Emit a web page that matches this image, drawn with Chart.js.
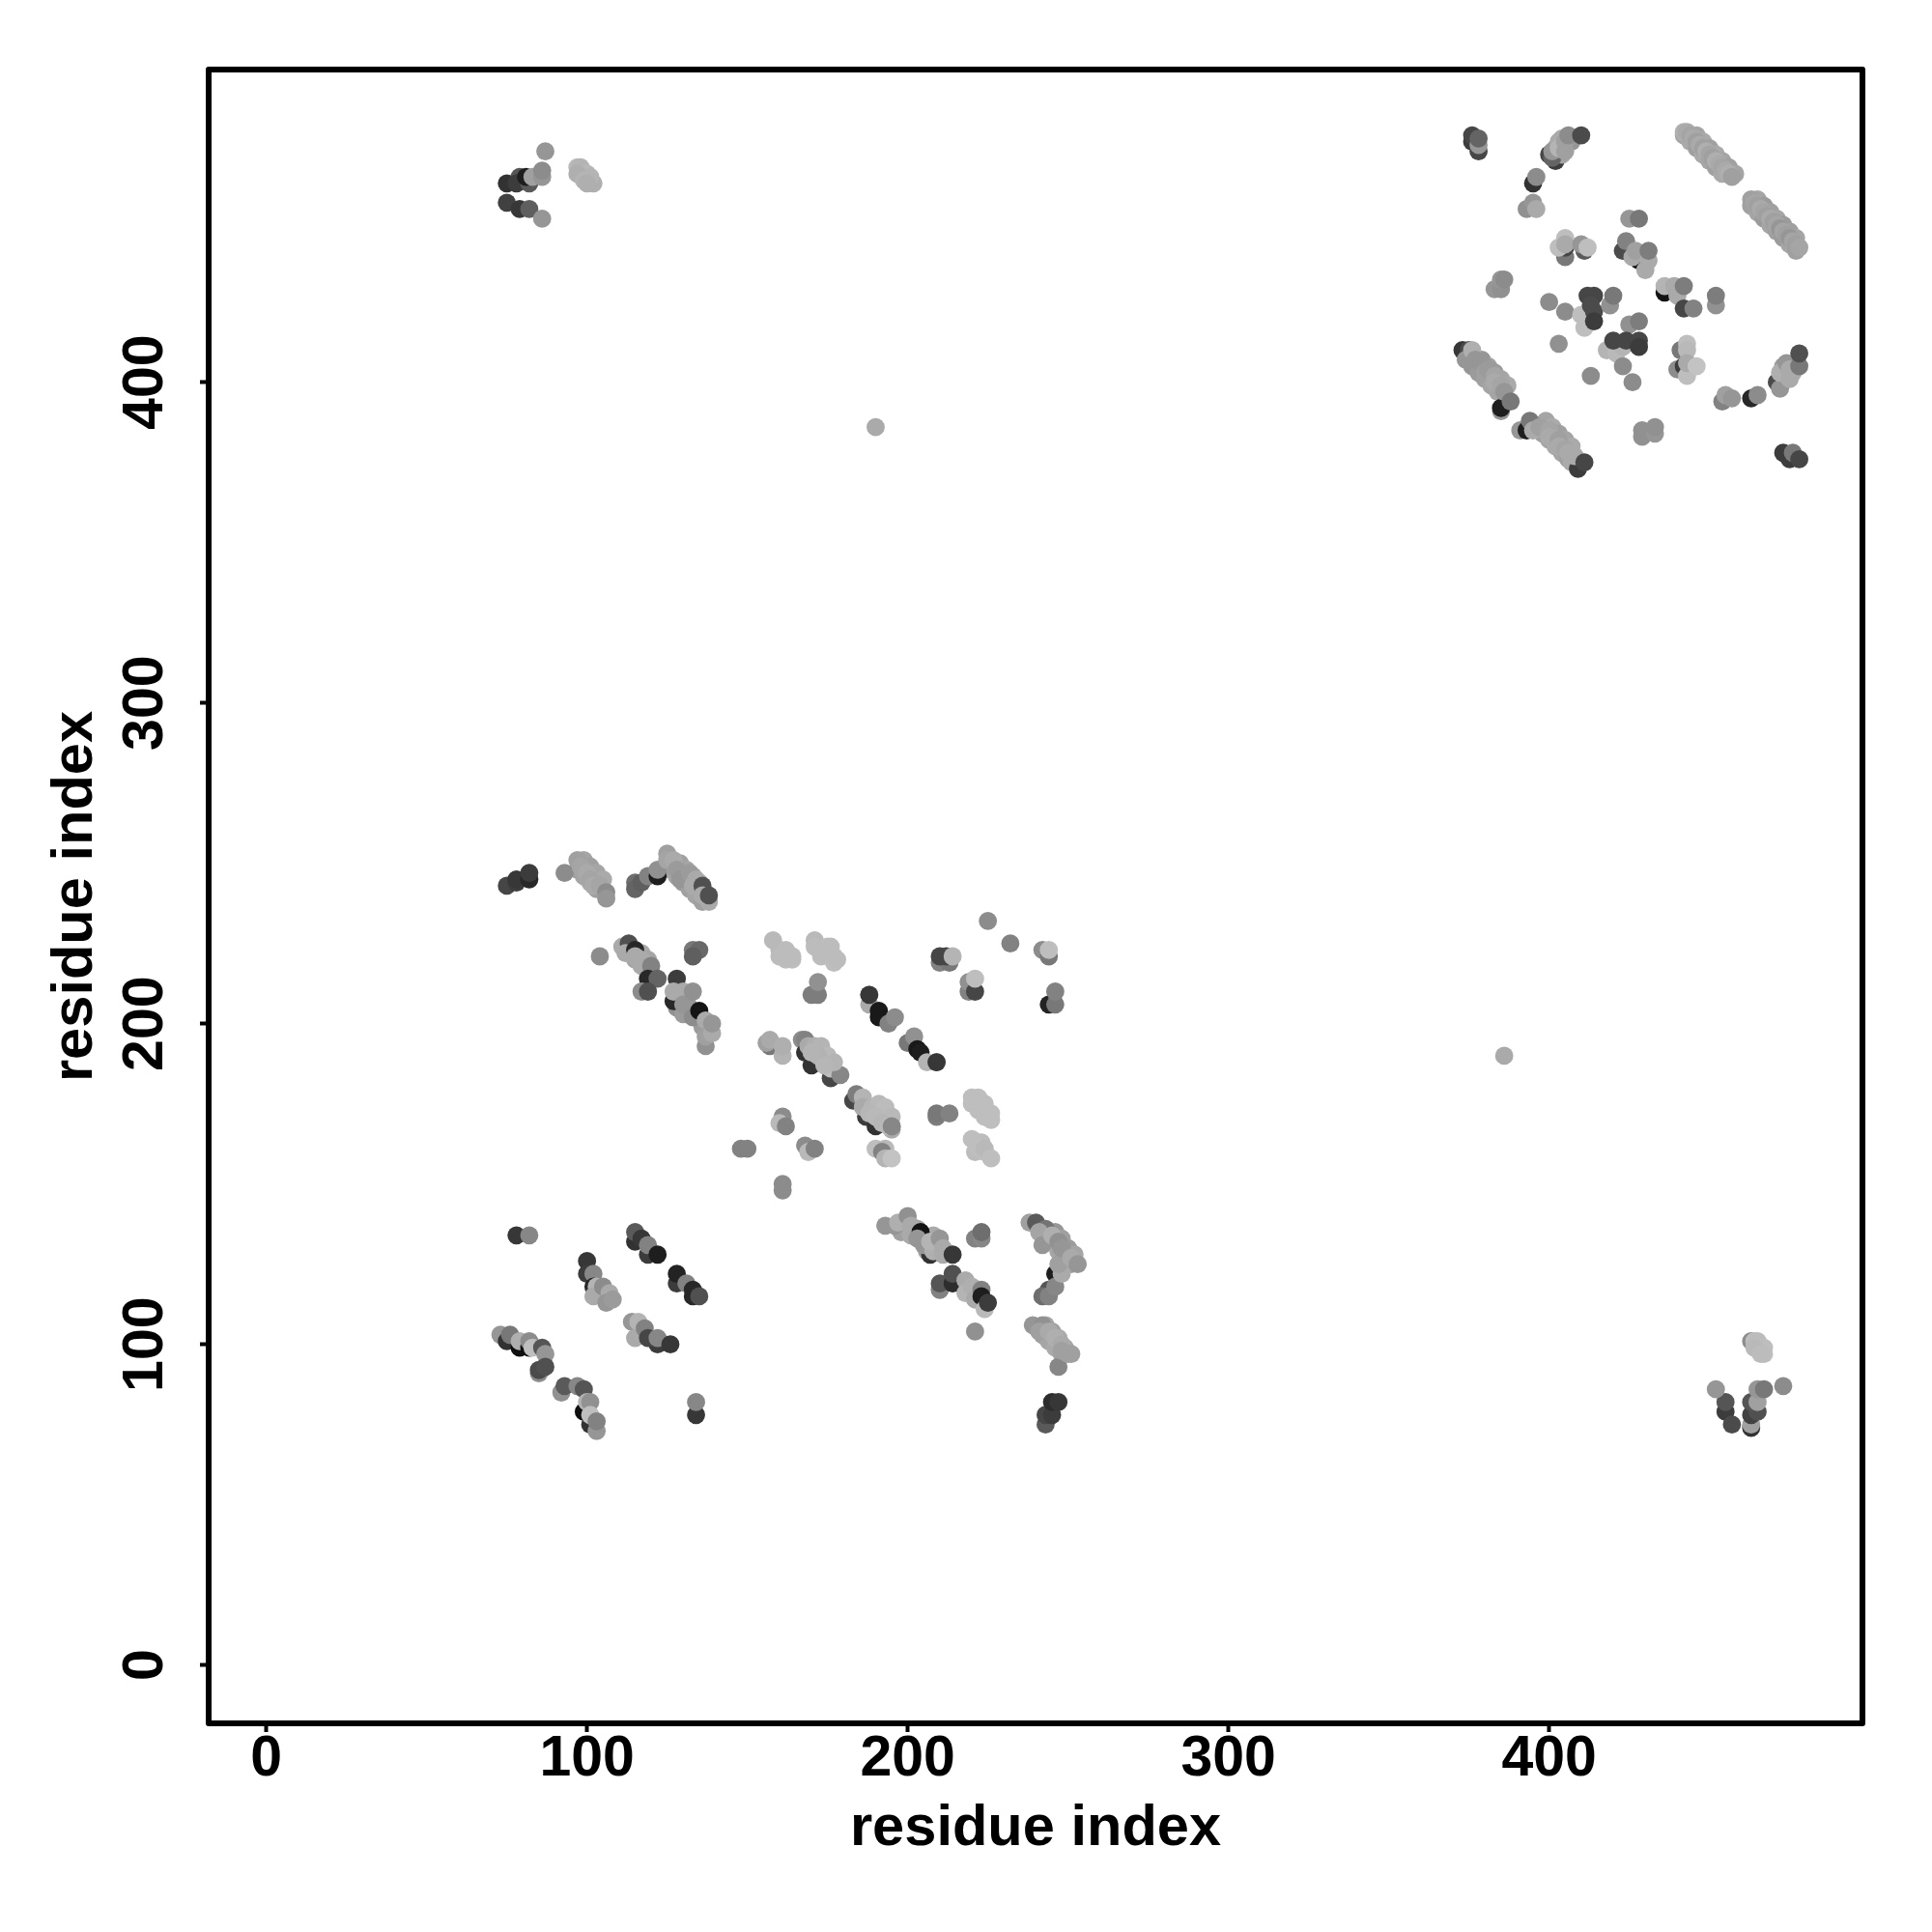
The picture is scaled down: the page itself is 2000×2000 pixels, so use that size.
<!DOCTYPE html>
<html>
<head>
<meta charset="utf-8">
<title>residue contacts</title>
<script src="https://cdn.jsdelivr.net/npm/chart.js@4"></script>
<style>
    html, body { margin: 0; padding: 0; background: #fff; }
    #wrap { width: 2000px; height: 2000px; }
</style>
</head>
<body>
<div id="wrap"><canvas id="contactChart" width="2000" height="2000"></canvas></div>
<script>
// one line per clump of contacts, the three arrays stay in step
const residueI = [
    87,75,79,78,82,81,83,86,86,75,79,82,86,97,98,99,100,101,102,
    98,100,101,97,99,100,
    378,376,376,378,378,
    402,402,404,404,407,
    400,401,401,403,403,405,405,406,410,
    395,396,
    393,395,396,
    442,444,446,448,450,452,454,446,448,450,452,454,456,458,
    442,443,444,445,446,447,448,449,450,451,452,453,454,455,456,457,
    463,465,467,469,471,473,475,477,465,467,469,471,473,475,477,
    463,464,465,466,467,468,469,470,471,472,473,474,475,476,477,478,
    425,428,
    405,405,403,405,405,411,410,412,
    423,424,428,426,430,427,431,431,
    383,385,385,386,
    400,405,410,411,412,414,413,414,414,419,420,
    425,428,
    418,421,423,420,424,428,428,
    403,423,413,426,
    436,436,439,440,442,442,445,452,452,
    441,443,443,440,442,443,443,446,
    473,473,476,
    471,472,472,474,475,475,478,478,
    454,455,457,463,465,
    473,475,476,478,
    429,429,433,433,
    379,381,383,385,387,376,378,380,382,384,
    373,375,374,376,377,379,380,381,383,383,385,385,385,386,388,
    399,401,403,405,407,398,400,402,404,406,
    391,393,394,395,397,400,400,403,403,405,406,407,409,408,411,
    190,386,
    75,78,78,82,82,
    99,101,103,105,97,99,101,103,
    93,97,98,100,101,102,104,106,106,
    129,131,133,135,126,128,130,132,134,136,
    115,115,117,119,122,122,125,125,127,128,129,132,134,133,136,136,138,138,
    113,115,117,117,119,
    104,111,113,112,115,115,117,120,119,122,117,119,128,133,135,133,
    129,131,132,128,130,135,136,
    127,127,130,130,133,133,135,137,137,137,139,139,
    158,160,162,164,
    160,162,164,162,
    171,173,175,177,177,
    175,173,176,178,171,
    170,172,172,
    188,188,188,191,191,194,196,
    200,202,203,204,206,209,209,
    210,213,210,212,214,
    219,219,221,221,
    225,232,242,244,244,
    244,246,246,
    157,156,157,161,161,
    167,168,168,170,176,169,171,173,174,176,179,
    173,175,177,172,174,170,
    183,187,190,184,186,186,189,191,193,195,195,
    191,193,195,188,190,192,194,195,
    209,209,213,
    222,224,220,222,224,226,
    220,222,224,226,
    222,224,221,223,
    220,222,224,226,
    190,193,192,193,195,
    161,160,162,
    148,150,
    168,169,171,
    161,161,
    78,82,
    115,115,117,119,119,122,
    128,128,131,133,133,135,
    100,100,102,102,103,102,105,107,106,108,
    114,116,115,118,122,119,122,126,
    73,75,76,79,79,82,82,83,86,87,85,85,87,
    92,93,97,99,101,99,100,101,103,101,103,
    134,134,
    198,199,201,203,206,208,209,
    207,193,196,197,200,201,204,203,205,208,207,210,211,211,214,
    221,223,223,
    210,210,214,214,
    218,218,220,221,223,223,224,225,
    243,245,247,249,251,246,248,250,252,
    246,244,242,244,246,248,247,238,240,243,241,242,245,247,248,251,253,
    243,245,247,249,242,244,246,248,
    239,242,241,244,246,248,247,248,250,251,
    221,
    243,243,245,245,247,
    463,464,465,467,
    465,467,464,466,
    455,455,457,463,463,463,465,463,465,465,467,452,473
];
const residueJ = [
    472,462,464,462,462,464,464,464,466,456,454,454,451,467,466,465,464,463,462,
    467,465,464,465,463,462,
    472,475,477,474,476,
    469,473,476,471,475,
    471,470,472,475,473,475,472,477,477,
    462,464,
    454,456,454,
    477,475,473,471,469,467,465,477,475,473,471,469,467,465,
    478,478,477,476,475,474,473,472,471,470,469,468,467,466,465,464,
    455,453,451,449,447,445,443,441,457,455,453,451,449,447,445,
    457,456,455,454,453,452,451,450,449,448,447,446,445,444,443,442,
    451,451,
    439,442,442,445,443,441,443,442,
    441,444,438,439,435,441,438,441,
    429,429,432,432,
    425,422,421,417,427,427,424,422,419,424,427,
    418,419,
    410,409,411,413,413,413,411,
    412,405,402,400,
    428,430,430,427,430,423,423,424,427,
    410,412,410,404,405,402,406,405,
    402,405,403,
    400,398,403,406,401,404,405,409,
    394,396,395,395,396,
    378,376,378,376,
    383,385,384,386,
    407,405,403,401,399,405,403,401,399,397,
    410,410,407,410,407,406,403,404,402,400,391,392,399,397,394,
    388,386,384,382,380,384,382,380,378,376,
    385,385,388,385,386,385,383,382,380,379,378,375,373,377,375,
    386,190,
    243,244,245,245,247,
    251,249,247,245,248,246,244,242,
    247,251,249,247,245,243,243,241,239,
    250,248,246,244,248,246,244,242,240,238,
    244,242,244,246,246,248,253,251,251,248,245,247,245,243,243,240,238,240,
    222,220,218,222,220,
    221,224,225,222,223,221,220,218,214,214,210,210,214,223,223,221,
    208,207,205,205,203,202,199,
    207,210,210,206,210,202,204,201,193,196,197,200,
    226,223,221,220,
    221,223,221,220,
    226,223,224,221,219,
    222,221,224,220,224,
    209,209,213,
    206,209,209,204,202,200,202,
    194,196,192,191,188,188,188,
    219,219,221,221,221,
    210,213,210,214,
    232,225,223,221,223,
    206,206,210,
    193,194,195,190,193,
    195,195,191,187,183,193,193,191,188,186,184,
    193,190,188,190,187,191,
    176,171,168,178,177,174,174,173,171,167,168,
    175,174,171,172,171,169,168,168,
    171,172,172,
    177,175,175,173,171,172,
    177,175,173,170,
    163,160,160,163,
    164,161,161,158,
    161,161,160,158,158,
    171,169,168,
    161,161,
    162,160,161,
    150,148,
    134,134,
    132,135,133,128,131,128,
    119,122,119,115,117,115,
    126,122,122,118,118,115,118,116,113,114,
    107,107,102,105,100,102,102,100,
    103,101,103,99,101,99,101,99,99,97,91,92,93,
    85,87,87,79,75,86,82,82,73,78,76,
    78,82,
    135,137,134,136,129,134,131,
    128,137,137,138,140,137,135,133,131,129,132,133,130,128,128,
    133,133,135,
    117,119,119,122,
    120,116,118,114,117,115,111,113,
    134,132,129,127,125,135,133,130,128,
    122,117,115,115,118,122,125,138,138,136,135,131,134,132,130,127,125,
    106,104,102,99,103,101,99,97,
    106,106,104,104,102,100,93,98,97,97,
    104,
    75,78,78,82,82,
    101,101,99,97,
    101,99,99,97,
    79,82,75,74,75,78,79,82,82,86,86,86,87
];
// grey level of each point, 0 black to 255 white
const shade = [
    150,50,85,60,90,30,160,150,140,65,55,95,150,185,185,190,185,190,175,
    180,185,180,175,180,175,
    70,60,70,150,100,
    60,165,170,165,150,
    70,100,150,170,180,160,160,140,75,
    50,140,
    145,150,170,
    165,170,160,170,165,160,170,165,170,160,170,165,160,165,
    175,170,165,170,160,170,160,175,165,160,175,170,165,170,175,160,
    160,165,155,165,160,155,165,160,165,155,160,165,155,160,165,
    160,165,160,170,165,160,170,160,165,150,165,160,150,165,160,165,
    150,120,
    120,70,190,190,170,90,150,190,
    75,130,20,170,170,160,170,125,
    150,145,150,140,
    140,140,190,190,70,70,75,75,60,145,120,
    145,125,
    180,185,180,70,70,70,60,
    145,140,140,140,
    20,180,170,170,125,70,130,145,125,
    120,190,185,140,60,190,170,195,
    165,155,170,
    75,150,175,150,170,170,120,80,
    130,160,150,40,140,
    60,60,120,70,
    145,145,150,145,
    150,160,155,165,170,150,155,160,165,165,
    55,75,150,175,150,150,160,155,165,170,150,30,165,150,120,
    165,170,160,165,170,160,165,170,165,160,
    150,30,120,170,160,165,170,160,170,165,170,170,60,170,70,
    170,170,
    70,60,55,40,60,
    165,160,165,170,160,165,170,160,
    140,160,165,170,165,170,165,140,150,
    160,165,155,160,160,165,155,160,165,160,
    110,100,95,130,30,145,160,165,170,155,150,155,170,170,80,170,170,80,
    170,165,170,170,165,
    140,170,80,170,40,170,170,130,40,100,140,80,60,120,105,95,
    150,155,150,145,155,150,155,
    40,170,170,150,145,140,20,170,145,160,170,150,
    185,185,190,190,
    188,188,188,188,
    185,190,190,190,190,
    188,188,188,188,188,
    125,125,145,
    170,130,55,25,25,130,140,
    120,145,25,30,180,120,55,
    130,120,70,70,180,
    130,145,70,190,
    140,130,140,120,190,
    35,120,130,
    120,160,170,180,175,
    140,130,50,50,70,170,175,180,180,190,135,
    180,185,180,178,182,180,
    70,60,50,125,180,170,180,190,185,170,140,
    185,188,185,182,185,182,185,135,
    125,120,130,
    190,190,190,190,190,190,
    190,190,190,190,
    188,188,188,188,
    190,190,185,190,
    190,185,130,180,195,
    140,185,130,
    130,130,
    140,185,130,
    140,140,
    55,135,
    50,90,55,60,130,30,
    60,35,130,40,40,80,
    55,60,135,40,180,170,140,170,150,155,
    150,180,170,130,60,70,135,55,
    150,50,120,15,175,15,140,190,85,150,140,75,80,
    145,90,135,15,50,85,180,145,150,190,130,
    55,135,
    160,165,170,160,165,170,175,
    50,150,150,175,145,170,20,150,150,175,180,150,170,170,55,
    130,135,110,
    130,85,45,80,
    170,180,175,170,130,30,185,60,
    155,160,165,155,160,150,160,155,165,
    30,85,110,130,135,170,160,160,90,115,165,150,175,145,150,170,150,
    165,160,170,165,160,165,170,165,
    150,145,160,170,175,170,135,160,160,160,
    145,
    90,70,60,45,55,
    140,190,190,190,
    188,190,185,188,
    60,85,75,50,160,65,80,85,160,150,120,150,140
];
const tickValues = [0, 100, 200, 300, 400];
const axisLabel = 'residue index';

const contacts = residueI.map((v, k) => ({ x: v, y: residueJ[k] }));
const greys = shade.map(g => `rgb(${g},${g},${g})`);

// box round the plot, as R draws it
const plotBox = {
    id: 'plotBox',
    afterDatasetsDraw(chart) {
        const a = chart.chartArea;
        const ctx = chart.ctx;
        ctx.save();
        ctx.strokeStyle = '#000';
        ctx.lineWidth = 6;
        ctx.lineJoin = 'round';
        ctx.strokeRect(a.left, a.top, a.right - a.left, a.bottom - a.top);
        ctx.restore();
    }
};

const tickFont = { family: '"Liberation Sans"', size: 59, weight: 'bold' };
const titleFont = { family: '"Liberation Sans"', size: 59.6, weight: 'bold' };

function axisGrid() {
    return { drawOnChartArea: false, drawTicks: true, tickLength: 9, tickWidth: 4, tickColor: '#000' };
}

new Chart(document.getElementById('contactChart').getContext('2d'), {
    type: 'scatter',
    data: {
        datasets: [{
            data: contacts,
            pointRadius: 9.4,
            pointHoverRadius: 9.4,
            pointBorderWidth: 0,
            pointBackgroundColor: greys
        }]
    },
    plugins: [plotBox],
    options: {
        responsive: false,
        animation: false,
        layout: { padding: { top: 72, right: 72, left: 0, bottom: 0 } },
        plugins: { legend: { display: false }, tooltip: { enabled: false } },
        scales: {
            x: {
                type: 'linear',
                min: -17.98,
                max: 497.7,
                afterFit(scale) { scale.height = 216; },
                afterBuildTicks(scale) { scale.ticks = tickValues.map(v => ({ value: v })); },
                grid: axisGrid(),
                border: { display: false },
                ticks: { color: '#000', font: tickFont, padding: -7, maxRotation: 0, autoSkip: false },
                title: { display: true, text: axisLabel, color: '#000', font: titleFont, padding: { top: 0, bottom: 70.5 } }
            },
            y: {
                type: 'linear',
                min: -18.16,
                max: 497.5,
                afterFit(scale) { scale.width = 216; },
                afterBuildTicks(scale) { scale.ticks = tickValues.map(v => ({ value: v })); },
                grid: axisGrid(),
                border: { display: false },
                ticks: { color: '#000', font: tickFont, padding: 6, minRotation: 90, maxRotation: 90, crossAlign: 'center', autoSkip: false },
                title: { display: true, text: axisLabel, color: '#000', font: titleFont, padding: { top: 43, bottom: 0 } }
            }
        }
    }
});
</script>
</body>
</html>
